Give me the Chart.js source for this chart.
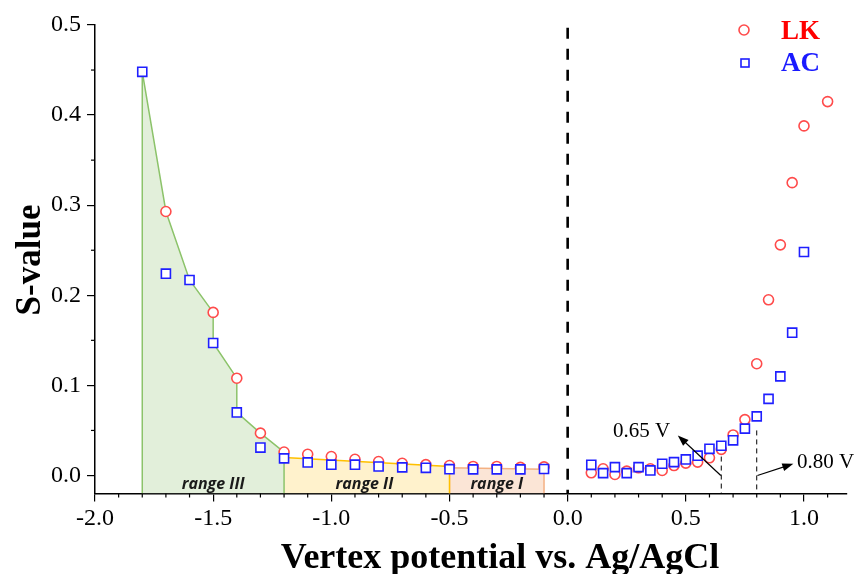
<!DOCTYPE html>
<html>
<head>
<meta charset="utf-8">
<script src="https://cdn.jsdelivr.net/npm/chart.js@4.4.1/dist/chart.umd.min.js"></script>
<style>
  html, body { margin: 0; padding: 0; background: #fff; }
</style>
</head>
<body>
<canvas id="chart" width="855" height="574"></canvas>
<script>
// data
const lkX = [-1.7, -1.5, -1.4, -1.3, -1.2, -1.1, -1.0, -0.9, -0.8, -0.7, -0.6, -0.5, -0.4, -0.3, -0.2, -0.1,
    0.1, 0.15, 0.2, 0.25, 0.3, 0.35, 0.4, 0.45, 0.5, 0.55, 0.6, 0.65, 0.7, 0.75, 0.8, 0.85, 0.9, 0.95, 1.0, 1.1]
const lkY = [0.293, 0.181, 0.108, 0.047, 0.026, 0.0235, 0.021, 0.018, 0.0155, 0.0135, 0.012, 0.011, 0.010, 0.010, 0.009, 0.0095,
    0.003, 0.0074, 0.0011, 0.0048, 0.0085, 0.0074, 0.0056, 0.011, 0.0137, 0.0148, 0.0196, 0.029, 0.045, 0.062, 0.124, 0.195, 0.256, 0.325, 0.388, 0.415]
const acX = [-1.8, -1.7, -1.6, -1.5, -1.4, -1.3, -1.2, -1.1, -1.0, -0.9, -0.8, -0.7, -0.6, -0.5, -0.4, -0.3, -0.2, -0.1,
    0.1, 0.15, 0.2, 0.25, 0.3, 0.35, 0.4, 0.45, 0.5, 0.55, 0.6, 0.65, 0.7, 0.75, 0.8, 0.85, 0.9, 0.95, 1.0]
const acY = [0.448, 0.224, 0.217, 0.147, 0.070, 0.031, 0.019, 0.0145, 0.012, 0.012, 0.010, 0.009, 0.0085, 0.007, 0.0068, 0.0068, 0.0068, 0.0072,
    0.0118, 0.0026, 0.0093, 0.0026, 0.0093, 0.0056, 0.013, 0.0148, 0.0178, 0.022, 0.0296, 0.033, 0.039, 0.052, 0.0656, 0.085, 0.110, 0.1585, 0.248]

// shaded ranges (outline points)
const rangeIIIX = [-1.8, -1.8, -1.7, -1.6, -1.5, -1.5, -1.4, -1.4, -1.3, -1.2, -1.2]
const rangeIIIY = [-0.02, 0.448, 0.293, 0.217, 0.181, 0.147, 0.108, 0.070, 0.047, 0.026, -0.02]
const rangeIIX = [-1.2, -0.5, -0.5]
const rangeIIY = [0.020, 0.010, -0.02]
const rangeIX = [-0.5, -0.5, -0.1, -0.1]
const rangeIY = [-0.02, 0.0085, 0.007, -0.02]
const rangeLabels = ['range III', 'range II', 'range I']
const rangeLabelX = [-1.5, -0.86, -0.3]

// ticks
const xTicks = [-2.0, -1.5, -1.0, -0.5, 0.0, 0.5, 1.0]
const yTicks = [0.0, 0.1, 0.2, 0.3, 0.4, 0.5]
const xMinor = [-1.9, -1.8, -1.7, -1.6, -1.4, -1.3, -1.2, -1.1, -0.9, -0.8, -0.7, -0.6, -0.4, -0.3, -0.2, -0.1,
    0.1, 0.2, 0.3, 0.4, 0.6, 0.7, 0.8, 0.9, 1.1]
const yMinor = [0.05, 0.15, 0.25, 0.35, 0.45]

const points = (xs, ys) => xs.map((x, i) => ({ x: x, y: ys[i] }))
const serif = '"Liberation Serif", "Times New Roman", serif'

// extra drawing: minor ticks, annotations, legend, axis titles
const decorations = {
    id: 'decorations',
    afterDraw(chart) {
        const ctx = chart.ctx
        const xs = chart.scales.x
        const ys = chart.scales.y
        const area = chart.chartArea
        ctx.save()

        // minor ticks
        ctx.strokeStyle = '#000'
        ctx.lineWidth = 1.2
        xMinor.forEach(v => {
            const px = xs.getPixelForValue(v)
            ctx.beginPath(); ctx.moveTo(px, area.bottom); ctx.lineTo(px, area.bottom + 4); ctx.stroke()
        })
        yMinor.forEach(v => {
            const py = ys.getPixelForValue(v)
            ctx.beginPath(); ctx.moveTo(area.left, py); ctx.lineTo(area.left - 4, py); ctx.stroke()
        })

        // dashed line at 0 V
        ctx.lineWidth = 2.6
        ctx.setLineDash([11, 10])
        ctx.beginPath()
        ctx.moveTo(xs.getPixelForValue(0), ys.getPixelForValue(0.497))
        ctx.lineTo(xs.getPixelForValue(0), area.bottom)
        ctx.stroke()

        // short dashed markers at 0.65 and 0.80 V
        ctx.lineWidth = 1
        ctx.setLineDash([5, 4])
        ctx.beginPath()
        ctx.moveTo(xs.getPixelForValue(0.65), ys.getPixelForValue(0.021))
        ctx.lineTo(xs.getPixelForValue(0.65), area.bottom)
        ctx.moveTo(xs.getPixelForValue(0.8), ys.getPixelForValue(0.05))
        ctx.lineTo(xs.getPixelForValue(0.8), area.bottom)
        ctx.stroke()
        ctx.setLineDash([])

        // arrows
        const arrow = (x0, y0, x1, y1) => {
            const ax = xs.getPixelForValue(x0), ay = ys.getPixelForValue(y0)
            const bx = xs.getPixelForValue(x1), by = ys.getPixelForValue(y1)
            const ang = Math.atan2(by - ay, bx - ax)
            ctx.lineWidth = 1.2
            ctx.beginPath(); ctx.moveTo(ax, ay); ctx.lineTo(bx - 6 * Math.cos(ang), by - 6 * Math.sin(ang)); ctx.stroke()
            ctx.beginPath()
            ctx.moveTo(bx, by)
            ctx.lineTo(bx - 11 * Math.cos(ang) + 4 * Math.sin(ang), by - 11 * Math.sin(ang) - 4 * Math.cos(ang))
            ctx.lineTo(bx - 11 * Math.cos(ang) - 4 * Math.sin(ang), by - 11 * Math.sin(ang) + 4 * Math.cos(ang))
            ctx.closePath()
            ctx.fill()
        }
        ctx.fillStyle = '#000'
        arrow(0.648, 0.0, 0.466, 0.0445)
        arrow(0.803, 0.0, 0.955, 0.013)

        ctx.font = '21px ' + serif
        ctx.textBaseline = 'middle'
        ctx.textAlign = 'left'
        ctx.fillText('0.65 V', 613, 431)
        ctx.fillText('0.80 V', 797, 462)

        // range labels
        ctx.font = 'italic 700 16px "Open Sans", sans-serif'
        ctx.textAlign = 'center'
        ctx.fillStyle = '#1a1a1a'
        rangeLabels.forEach((t, i) => ctx.fillText(t, xs.getPixelForValue(rangeLabelX[i]), 484))

        // legend
        ctx.lineWidth = 1.6
        ctx.strokeStyle = 'rgb(255,75,75)'
        ctx.beginPath(); ctx.arc(744, 30, 5, 0, Math.PI * 2); ctx.stroke()
        ctx.strokeStyle = '#1f1fff'
        ctx.strokeRect(741, 59, 8, 8)
        ctx.font = 'bold 27px ' + serif
        ctx.textAlign = 'left'
        ctx.fillStyle = '#ff0000'
        ctx.fillText('LK', 781, 32)
        ctx.fillStyle = '#1a1aff'
        ctx.fillText('AC', 781, 64)

        // axis titles
        ctx.fillStyle = '#000'
        ctx.font = 'bold 36px ' + serif
        ctx.textAlign = 'center'
        ctx.textBaseline = 'alphabetic'
        ctx.fillText('Vertex potential vs. Ag/AgCl', 500, 568)
        ctx.translate(40, 260)
        ctx.rotate(-Math.PI / 2)
        ctx.font = 'bold 35px ' + serif
        ctx.fillText('S-value', 0, 0)

        ctx.restore()
    }
}

const rangeSet = (xs, ys, fillColor, lineColor, order) => ({
    data: points(xs, ys),
    showLine: true,
    fill: 'start',
    backgroundColor: fillColor,
    borderColor: lineColor,
    borderWidth: 1.5,
    pointRadius: 0,
    tension: 0,
    order: order
})

const config = {
    type: 'scatter',
    data: {
        datasets: [
            {
                label: 'AC',
                data: points(acX, acY),
                pointStyle: 'rect',
                pointRadius: 6.4,
                borderColor: '#1f1fff',
                backgroundColor: '#fff',
                borderWidth: 1.6,
                order: 0
            },
            {
                label: 'LK',
                data: points(lkX, lkY),
                pointStyle: 'circle',
                pointRadius: 5,
                borderColor: 'rgb(255,75,75)',
                backgroundColor: '#fff',
                borderWidth: 1.6,
                order: 1
            },
            rangeSet(rangeIIIX, rangeIIIY, '#e2efda', '#8cc36a', 2),
            rangeSet(rangeIIX, rangeIIY, '#fff2cc', '#ffc000', 3),
            rangeSet(rangeIX, rangeIY, '#fbe5d6', '#f4b183', 4)
        ]
    },
    options: {
        responsive: false,
        animation: false,
        layout: { padding: { top: 25, right: 0, left: 0, bottom: 0 } },
        plugins: { legend: { display: false }, tooltip: { enabled: false } },
        scales: {
            x: {
                type: 'linear',
                min: -2.0,
                max: 1.182,
                afterBuildTicks: s => { s.ticks = xTicks.map(v => ({ value: v })) },
                afterFit: s => { s.height = 80.5 },
                ticks: {
                    callback: v => v.toFixed(1),
                    font: { family: serif, size: 24 },
                    color: '#000',
                    padding: 3,
                    maxRotation: 0,
                    autoSkip: false
                },
                grid: { drawOnChartArea: false, drawTicks: true, tickLength: 8, color: '#000', lineWidth: 1.2 },
                border: { color: '#000', width: 1.5 }
            },
            y: {
                min: -0.02,
                max: 0.5,
                afterBuildTicks: s => { s.ticks = yTicks.map(v => ({ value: v })) },
                afterFit: s => { s.width = 95 },
                ticks: {
                    callback: v => v.toFixed(1),
                    font: { family: serif, size: 24 },
                    color: '#000',
                    padding: 6
                },
                grid: { drawOnChartArea: false, drawTicks: true, tickLength: 8, color: '#000', lineWidth: 1.2 },
                border: { color: '#000', width: 1.5 }
            }
        }
    },
    plugins: [decorations]
}

const chart = new Chart(document.getElementById('chart'), config)
</script>
</body>
</html>
